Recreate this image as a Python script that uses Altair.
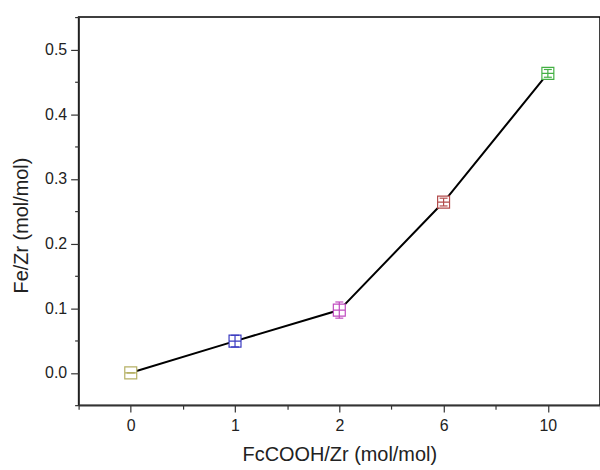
import altair as alt
import pandas as pd

# data
categories = ["0", "1", "2", "6", "10"]
fe_zr = [0.0, 0.049, 0.097, 0.264, 0.463]
errors = [0.0, 0.009, 0.0125, 0.006, 0.006]
colors = ["#b5b064", "#3a3ac0", "#c04cc0", "#b44c4c", "#44b044"]

df = pd.DataFrame({
    "idx": list(range(len(categories))),
    "cat": categories,
    "val": fe_zr,
    "err": errors,
})
df["lo"] = df["val"] - df["err"]
df["hi"] = df["val"] + df["err"]

cat_js = "[" + ",".join("'" + c + "'" for c in categories) + "]"

x_vals = [i * 0.5 - 0.5 for i in range(2 * len(categories) + 1)]
y_major_vals = [round(0.1 * i, 1) for i in range(6)]
y_minor_vals = [round(-0.05 + 0.1 * i, 2) for i in range(7)]

x_axis = alt.Axis(
    values=x_vals,
    labelExpr=f"datum.value % 1 == 0 ? {cat_js}[datum.value] : ''",
    tickSize={"condition": {"test": "datum.value % 1 == 0", "value": 7}, "value": 4},
    title="FcCOOH/Zr (mol/mol)",
    grid=False,
    labelAngle=0,
    labelPadding=5,
    titleY=50,
    titleBaseline="middle",
)
y_axis = alt.Axis(
    values=y_major_vals,
    format=".1f",
    tickSize=8,
    labelOverlap=False,
    title="Fe/Zr (mol/mol)",
    grid=False,
    labelPadding=4,
    titleX=-57,
    titleY=209,
    titleBaseline="middle",
    orient="left",
)
y_minor_axis = alt.Axis(
    values=y_minor_vals,
    tickSize=4,
    labels=False,
    domain=False,
    grid=False,
    title=None,
    orient="left",
)

xs = alt.Scale(domain=[-0.5, 4.5], nice=False, zero=False)
ys = alt.Scale(domain=[-0.05, 0.55], nice=False, zero=False)
col = alt.Color("cat:N", scale=alt.Scale(domain=categories, range=colors), legend=None)

base = alt.Chart(df)

line = base.mark_line(color="black", strokeWidth=2).encode(
    x=alt.X("idx:Q", scale=xs, axis=x_axis),
    y=alt.Y("val:Q", scale=ys, axis=y_axis),
)

markers = base.mark_point(
    shape="M-1,-1H1V1H-1Z M-1,0H1",
    size=144,
    filled=False,
    fill="white",
    fillOpacity=1,
    strokeWidth=1.2,
    opacity=1,
).encode(
    x=alt.X("idx:Q", scale=xs),
    y=alt.Y("val:Q", scale=ys, axis=y_minor_axis),
    color=col,
)

err_rule = base.mark_rule(strokeWidth=1.2).encode(
    x=alt.X("idx:Q", scale=xs), y=alt.Y("lo:Q", scale=ys, axis=None), y2="hi:Q", color=col
)
cap_lo = base.mark_point(shape="M-1,0H1", size=64, strokeWidth=1.2, opacity=1).encode(
    x=alt.X("idx:Q", scale=xs), y=alt.Y("lo:Q", scale=ys, axis=None), color=col
)
cap_hi = base.mark_point(shape="M-1,0H1", size=64, strokeWidth=1.2, opacity=1).encode(
    x=alt.X("idx:Q", scale=xs), y=alt.Y("hi:Q", scale=ys, axis=None), color=col
)

chart = (
    alt.layer(line, markers, err_rule, cap_lo, cap_hi)
    .resolve_axis(y="independent")
    .properties(
        width=524,
        height=390,
        autosize=alt.AutoSizeParams(type="none"),
        padding={"left": 79, "top": 16, "right": 0, "bottom": 64},
    )
    .configure_view(stroke="black", strokeWidth=1.5)
    .configure_axis(
        domainColor="#333333",
        domainWidth=1.5,
        tickColor="#333333",
        tickWidth=1.2,
        labelFont="Liberation Sans",
        labelFontSize=16,
        labelColor="#222222",
        titleFont="Liberation Sans",
        titleFontSize=20,
        titleFontWeight="normal",
        titleColor="#222222",
    )
)

chart.save("out.html", embed_options={"renderer": "svg", "actions": False})
